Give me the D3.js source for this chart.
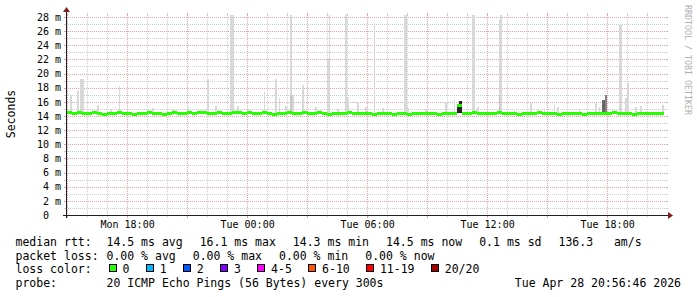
<!DOCTYPE html>
<html>
<head>
<meta charset="utf-8">
<script src="https://cdn.jsdelivr.net/npm/d3@7"></script>
<style>
body { margin: 0; background: #fff; }
svg { display: block; }
text { font-family: "DejaVu Sans Mono", monospace; fill: #000; }
</style>
</head>
<body>
<svg id="graph" width="697" height="297"></svg>
<script>
// graph window
var timeRange = ["2026-04-27 14:56:46", "2026-04-28 20:56:46"];
var valueMax = 28.28;

// axes
var yTicks = [0, 2, 4, 6, 8, 10, 12, 14, 16, 18, 20, 22, 24, 26, 28];
var yTickLabels = ["0  ", "2 m", "4 m", "6 m", "8 m", "10 m", "12 m", "14 m", "16 m", "18 m", "20 m", "22 m", "24 m", "26 m", "28 m"];
var xTicks = ["2026-04-27 18:00", "2026-04-28 00:00", "2026-04-28 06:00", "2026-04-28 12:00", "2026-04-28 18:00"];
var xTickLabels = ["Mon 18:00", "Tue 00:00", "Tue 06:00", "Tue 12:00", "Tue 18:00"];

// median rtt in ms, one value every 15 min starting at medianStart
var medianStart = "2026-04-27 15:00";
var medianEnd = "2026-04-28 20:50";
var medianRtt = [
  14.5, 14.4, 14.5, 14.4, 14.4, 14.5, 14.4, 14.3, 14.4, 14.4, 14.5, 14.4,
  14.4, 14.3, 14.4, 14.4, 14.5, 14.4, 14.4, 14.3, 14.4, 14.5, 14.4, 14.4,
  14.5, 14.4, 14.5, 14.5, 14.4, 14.4, 14.5, 14.4, 14.4, 14.5, 14.5, 14.4,
  14.5, 14.4, 14.4, 14.5, 14.4, 14.3, 14.4, 14.4, 14.5, 14.4, 14.4, 14.5,
  14.4, 14.4, 14.5, 14.4, 14.3, 14.4, 14.4, 14.4, 14.5, 14.4, 14.4, 14.4,
  14.4, 14.3, 14.4, 14.4, 14.4, 14.3, 14.4, 14.4, 14.3, 14.4, 14.4, 14.4,
  14.4, 14.4, 14.3, 14.4, 14.4, 14.4, 15.6, 14.4, 14.4, 14.5, 14.4, 14.4,
  14.4, 14.4, 14.5, 14.4, 14.4, 14.4, 14.3, 14.4, 14.4, 14.4, 14.5, 14.4,
  14.4, 14.4, 14.3, 14.4, 14.4, 14.4, 14.4, 14.3, 14.4, 14.4, 14.4, 14.4,
  14.4, 14.5, 14.4, 14.4, 14.4, 14.3, 14.4, 14.4, 14.4, 14.4, 14.4, 14.4
];

// smoke: slowest ping of a 5 min step, ms
var smokeFloor = 14.2;
var smoke = [
  ["2026-04-27 15:10", 17.0], ["2026-04-27 15:30", 17.6], ["2026-04-27 15:40", 19.3],
  ["2026-04-27 15:45", 19.3], ["2026-04-27 16:30", 15.6], ["2026-04-27 17:10", 15.0],
  ["2026-04-27 17:35", 18.2], ["2026-04-27 19:00", 15.0], ["2026-04-27 19:15", 15.2],
  ["2026-04-27 20:15", 15.0], ["2026-04-27 21:00", 15.3], ["2026-04-27 22:00", 19.3],
  ["2026-04-27 22:25", 15.4], ["2026-04-27 23:10", 28.3], ["2026-04-27 23:15", 28.3],
  ["2026-04-27 23:30", 15.4], ["2026-04-28 00:50", 17.4], ["2026-04-28 01:25", 19.3],
  ["2026-04-28 01:35", 16.6], ["2026-04-28 01:55", 15.4], ["2026-04-28 02:10", 28.3],
  ["2026-04-28 02:15", 16.9], ["2026-04-28 02:45", 18.4], ["2026-04-28 03:25", 15.3],
  ["2026-04-28 04:00", 21.9], ["2026-04-28 04:05", 28.3], ["2026-04-28 04:30", 15.0],
  ["2026-04-28 04:55", 28.3], ["2026-04-28 05:00", 16.6], ["2026-04-28 05:30", 16.0],
  ["2026-04-28 05:55", 15.3], ["2026-04-28 06:20", 27.1], ["2026-04-28 06:45", 15.1],
  ["2026-04-28 07:50", 28.3], ["2026-04-28 07:55", 28.3], ["2026-04-28 08:00", 15.2],
  ["2026-04-28 08:55", 15.0], ["2026-04-28 09:55", 16.0], ["2026-04-28 10:20", 16.3],
  ["2026-04-28 11:15", 28.3], ["2026-04-28 11:20", 28.3], ["2026-04-28 11:30", 15.3],
  ["2026-04-28 12:35", 27.6], ["2026-04-28 12:40", 28.3], ["2026-04-28 13:20", 15.0],
  ["2026-04-28 14:10", 15.8], ["2026-04-28 14:50", 15.0], ["2026-04-28 15:20", 15.5],
  ["2026-04-28 15:30", 15.3], ["2026-04-28 16:35", 15.0], ["2026-04-28 17:25", 15.9],
  ["2026-04-28 17:35", 15.3], ["2026-04-28 18:35", 26.9], ["2026-04-28 18:40", 26.9],
  ["2026-04-28 18:55", 16.6], ["2026-04-28 19:00", 18.6], ["2026-04-28 19:25", 15.3],
  ["2026-04-28 19:40", 15.4], ["2026-04-28 20:45", 15.6]
];
// dense smoke: [time, low ms, high ms, density 0..1]
var denseSmoke = [
  ["2026-04-28 02:10", 14.4, 16.9, 0.1],
  ["2026-04-28 10:30", 14.4, 15.3, 0.95],
  ["2026-04-28 10:35", 14.4, 16.1, 0.95],
  ["2026-04-28 10:40", 14.4, 16.1, 0.95],
  ["2026-04-28 12:35", 14.4, 17.0, 0.12],
  ["2026-04-28 17:45", 14.4, 16.2, 0.6],
  ["2026-04-28 17:50", 14.4, 16.2, 0.6],
  ["2026-04-28 17:55", 14.4, 17.0, 0.45]
];

// legend
var rttValues = [14.5, 16.1, 14.3, 14.5, 0.1];
var rttNames = ["avg", "max", "min", "now", "sd"];
var amPerSec = 136.3;
var lossValues = [0, 0, 0, 0];
var lossNames = ["avg", "max", "min", "now"];
var lossLabels = ["0", "1", "2", "3", "4-5", "6-10", "11-19", "20/20"];
var lossColors = ["#26ff00", "#00b8ff", "#0059ff", "#7e00ff", "#ff00ff", "#ff5500", "#ff0000", "#a10000"];
var probeText = "20 ICMP Echo Pings (56 Bytes) every 300s";
var stampText = "Tue Apr 28 20:56:46 2026";

var parseSec = d3.timeParse("%Y-%m-%d %H:%M:%S"),
    parseMin = d3.timeParse("%Y-%m-%d %H:%M");

var gLeft = 66, gRight = 666, gTop = 15, gBottom = 215;
var gridColor = "#cdcdcd", mgridColor = "#e8a4a4";

var x = d3.scaleTime().domain(timeRange.map(parseSec)).range([gLeft, gRight]);
var y = d3.scaleLinear().domain([0, valueMax]).range([gBottom, gTop]);
function px(v) { return Math.round(v) + 0.5; }

var svg = d3.select("#graph");
svg.append("rect").attr("width", 697).attr("height", 297).attr("fill", "#fff");
svg.append("clipPath").attr("id", "plot").append("rect")
    .attr("x", gLeft).attr("y", gTop).attr("width", gRight - gLeft).attr("height", gBottom - gTop);

// grid
var grid = svg.append("g").attr("shape-rendering", "crispEdges").attr("stroke-width", 1);
var hours = d3.timeHour.range(x.domain()[0], x.domain()[1]);
function isMajorHour(d) { return d.getHours() % 3 == 0; }
function hourColor(d) { return isMajorHour(d) ? mgridColor : gridColor; }
grid.selectAll(".vg").data(hours).enter().append("line")
    .attr("x1", function (d) { return px(x(d)); }).attr("x2", function (d) { return px(x(d)); })
    .attr("y1", gTop).attr("y2", gBottom)
    .attr("stroke", hourColor).attr("stroke-dasharray", "1,1");
grid.selectAll(".vt").data(hours).enter().append("line")
    .attr("x1", function (d) { return px(x(d)); }).attr("x2", function (d) { return px(x(d)); })
    .attr("y1", gTop - 2).attr("y2", gTop)
    .attr("stroke", hourColor);
grid.selectAll(".vb").data(hours).enter().append("line")
    .attr("x1", function (d) { return px(x(d)); }).attr("x2", function (d) { return px(x(d)); })
    .attr("y1", gBottom).attr("y2", function (d) { return isMajorHour(d) ? gBottom + 3 : gBottom + 2; })
    .attr("stroke", hourColor);

var yGrid = y.ticks(28).filter(function (d) { return d > 0; });
function isMajorY(d) { return d % 2 == 0; }
function yColor(d) { return isMajorY(d) ? mgridColor : gridColor; }
grid.selectAll(".hg").data(yGrid).enter().append("line")
    .attr("x1", gLeft).attr("x2", gRight)
    .attr("y1", function (d) { return px(y(d)); }).attr("y2", function (d) { return px(y(d)); })
    .attr("stroke", yColor).attr("stroke-dasharray", "1,1");
grid.selectAll(".hl").data(yGrid).enter().append("line")
    .attr("x1", gLeft - 2).attr("x2", gLeft)
    .attr("y1", function (d) { return px(y(d)); }).attr("y2", function (d) { return px(y(d)); })
    .attr("stroke", yColor);
grid.selectAll(".hr").data(yGrid).enter().append("line")
    .attr("x1", gRight).attr("x2", gRight + 2)
    .attr("y1", function (d) { return px(y(d)); }).attr("y2", function (d) { return px(y(d)); })
    .attr("stroke", yColor);

// smoke
var plot = svg.append("g").attr("clip-path", "url(#plot)").attr("shape-rendering", "crispEdges");
function binX(t) { return Math.round(x(parseMin(t))); }
function binW(t) { return Math.max(1, Math.round(x(d3.timeMinute.offset(parseMin(t), 5))) - binX(t)); }
plot.selectAll(".smoke").data(smoke).enter().append("rect")
    .attr("x", function (d) { return binX(d[0]); })
    .attr("width", function (d) { return binW(d[0]); })
    .attr("y", function (d) { return Math.round(y(d[1])); })
    .attr("height", function (d) { return Math.round(y(smokeFloor)) - Math.round(y(d[1])); })
    .attr("fill", "#d8d8d8");
var shade = d3.interpolateRgb("#d8d8d8", "#1c1c1c");
plot.selectAll(".dense").data(denseSmoke).enter().append("rect")
    .attr("x", function (d) { return binX(d[0]); })
    .attr("width", function (d) { return binW(d[0]); })
    .attr("y", function (d) { return Math.round(y(d[2])); })
    .attr("height", function (d) { return Math.round(y(d[1])) - Math.round(y(d[2])); })
    .attr("fill", function (d) { return shade(d[3]); });

// median drawn as a thin band per step, like the stacked rrd area
var t0 = parseMin(medianStart);
var medPts = medianRtt.map(function (v, i) { return { t: d3.timeMinute.offset(t0, 15 * i), v: v }; });
medPts.push({ t: parseMin(medianEnd), v: medianRtt[medianRtt.length - 1] });
var medBand = d3.area().x(function (d) { return x(d.t); })
    .y0(function (d) { return Math.round(y(d.v)) + 2; })
    .y1(function (d) { return Math.round(y(d.v)) - 1; })
    .curve(d3.curveStepAfter);
plot.append("path").datum(medPts).attr("d", medBand).attr("fill", lossColors[0]);

// axis lines and arrows
var axisColor = "#1f1f1f", arrowColor = "#801f1f";
svg.append("line").attr("x1", gLeft - 3).attr("x2", gRight + 3).attr("y1", gBottom + 0.5).attr("y2", gBottom + 0.5)
    .attr("stroke", axisColor).attr("shape-rendering", "crispEdges");
svg.append("line").attr("x1", gLeft + 0.5).attr("x2", gLeft + 0.5).attr("y1", gBottom + 3).attr("y2", gTop - 3)
    .attr("stroke", axisColor).attr("shape-rendering", "crispEdges");
svg.append("path").attr("d", "M" + (gRight + 2) + "," + (gBottom - 3) + "L" + (gRight + 7) + "," + (gBottom + 0.5) + "L" + (gRight + 2) + "," + (gBottom + 4) + "Z")
    .attr("fill", arrowColor);
svg.append("path").attr("d", "M" + (gLeft - 3) + "," + (gTop - 3) + "L" + (gLeft + 0.5) + "," + (gTop - 8) + "L" + (gLeft + 4) + "," + (gTop - 3) + "Z")
    .attr("fill", arrowColor);

// tick labels
var yAxis = svg.append("g").attr("transform", "translate(" + gLeft + ",0)")
    .call(d3.axisLeft(y).tickValues(yTicks).tickFormat(function (d, i) { return yTickLabels[i]; }).tickSize(0).tickPadding(5));
yAxis.select(".domain").remove();
yAxis.attr("font-family", "DejaVu Sans Mono").attr("font-size", 10);
yAxis.selectAll("text").attr("xml:space", "preserve").style("white-space", "pre").attr("fill", "#000");

var xAxis = svg.append("g").attr("transform", "translate(0," + gBottom + ")")
    .call(d3.axisBottom(x).tickValues(xTicks.map(parseMin)).tickFormat(function (d, i) { return xTickLabels[i]; }).tickSize(0).tickPadding(6));
xAxis.select(".domain").remove();
xAxis.attr("font-family", "DejaVu Sans Mono").attr("font-size", 10);
xAxis.selectAll("text").attr("fill", "#000");

// vertical labels
svg.append("text").attr("transform", "translate(14.5,114) rotate(-90)")
    .attr("text-anchor", "middle").attr("font-size", 11.5).text("Seconds");
svg.append("text").attr("transform", "translate(684.5,5) rotate(90)")
    .attr("font-size", 8.3).style("fill", "#b0b0b0").text("RRDTOOL / TOBI OETIKER");

// legend
var fs = 11.5, labelX = 15.5, colX = 106.5, gap = 17;
var rowY = [245.8, 259.6, 273.4, 287.2];
function flowRow(yy, items) {
    var cx = colX;
    items.forEach(function (s) {
        var t = svg.append("text").attr("x", cx).attr("y", yy).attr("font-size", fs)
            .attr("xml:space", "preserve").style("white-space", "pre").text(s);
        cx += t.node().getComputedTextLength() + gap;
    });
}
svg.append("text").attr("x", labelX).attr("y", rowY[0]).attr("font-size", fs).text("median rtt:");
flowRow(rowY[0], rttValues.map(function (v, i) { return d3.format(".1f")(v) + " ms " + rttNames[i]; })
    .concat([d3.format(".1f")(amPerSec) + "   am/s"]));
svg.append("text").attr("x", labelX).attr("y", rowY[1]).attr("font-size", fs).text("packet loss:");
flowRow(rowY[1], lossValues.map(function (v, i) { return d3.format(".2f")(v) + " % " + lossNames[i]; }));
svg.append("text").attr("x", labelX).attr("y", rowY[2]).attr("font-size", fs).text("loss color:");
var bx = colX + 2;
lossLabels.forEach(function (lab, i) {
    svg.append("rect").attr("x", Math.round(bx) + 0.5).attr("y", 264.5).attr("width", 7).attr("height", 7)
        .attr("fill", lossColors[i]).attr("stroke", "#000").attr("shape-rendering", "crispEdges");
    var t = svg.append("text").attr("x", bx + 14).attr("y", rowY[2]).attr("font-size", fs).text(lab);
    bx += 14 + t.node().getComputedTextLength() + 16.2;
});
svg.append("text").attr("x", labelX).attr("y", rowY[3]).attr("font-size", fs).text("probe:");
svg.append("text").attr("x", colX).attr("y", rowY[3]).attr("font-size", fs).text(probeText);
svg.append("text").attr("x", 681).attr("y", rowY[3]).attr("font-size", fs).attr("text-anchor", "end").text(stampText);
</script>
</body>
</html>
